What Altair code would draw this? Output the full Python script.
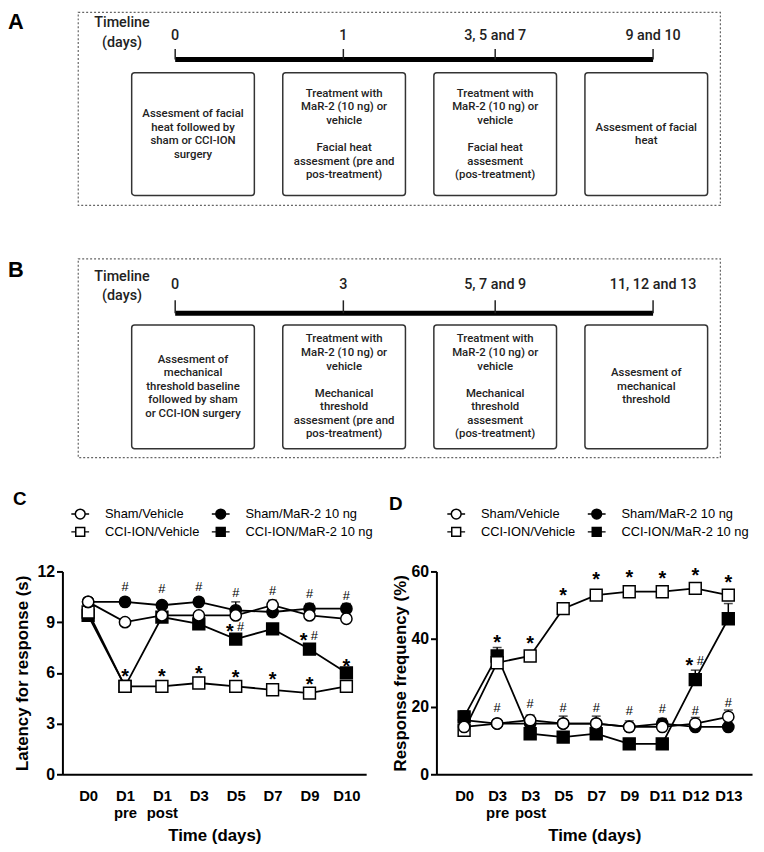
import altair as alt
import pandas as pd

ARIAL = "Liberation Sans, Arial, Helvetica, sans-serif"
ROBOTO = "Roboto, sans-serif"

# ---------------- data ----------------
SERIES = ["Sham/Vehicle", "Sham/MaR-2 10 ng", "CCI-ION/Vehicle", "CCI-ION/MaR-2 10 ng"]
LEGEND_ORDER = ["Sham/Vehicle", "CCI-ION/Vehicle", "Sham/MaR-2 10 ng", "CCI-ION/MaR-2 10 ng"]

# Panel A (facial heat timeline)
a_stage_labels = ["0", "1", "3, 5 and 7", "9 and 10"]
a_box_texts = [
    "Assesment of facial\nheat  followed by\nsham or CCI-ION\nsurgery",
    "Treatment with\nMaR-2 (10 ng) or\nvehicle\n\nFacial heat\nassesment (pre and\npos-treatment)",
    "Treatment with\nMaR-2 (10 ng) or\nvehicle\n\nFacial heat\nassesment\n(pos-treatment)",
    "Assesment of facial\nheat",
]
# Panel B (mechanical threshold timeline)
b_stage_labels = ["0", "3", "5, 7 and 9", "11, 12 and 13"]
b_box_texts = [
    "Assesment of\nmechanical\nthreshold baseline\nfollowed by sham\nor CCI-ION surgery",
    "Treatment with\nMaR-2 (10 ng) or\nvehicle\n\nMechanical\nthreshold\nassesment (pre and\npos-treatment)",
    "Treatment with\nMaR-2 (10 ng) or\nvehicle\n\nMechanical\nthreshold\nassesment\n(pos-treatment)",
    "Assesment of\nmechanical\nthreshold",
]
timeline_title = ["Timeline", "(days)"]

# Panel C: latency for response (s)
c_cats = ["D0", "D1 pre", "D1 post", "D3", "D5", "D7", "D9", "D10"]
c_vals = {
    "Sham/Vehicle":        [10.2, 9.0, 9.4, 9.4, 9.4, 10.0, 9.4, 9.2],
    "Sham/MaR-2 10 ng":    [10.2, 10.2, 10.0, 10.2, 9.7, 9.6, 9.8, 9.8],
    "CCI-ION/Vehicle":     [9.6, 5.2, 5.2, 5.4, 5.2, 5.0, 4.8, 5.2],
    "CCI-ION/MaR-2 10 ng": [9.4, 5.2, 9.3, 8.9, 8.0, 8.6, 7.4, 6.0],
}
c_sem = {
    "Sham/Vehicle":        [0.2, 0.2, 0.2, 0.2, 0.2, 0.3, 0.2, 0.2],
    "Sham/MaR-2 10 ng":    [0.2, 0.2, 0.2, 0.2, 0.5, 0.2, 0.3, 0.3],
    "CCI-ION/Vehicle":     [0.3, 0.2, 0.2, 0.2, 0.2, 0.2, 0.2, 0.2],
    "CCI-ION/MaR-2 10 ng": [0.3, 0.3, 0.2, 0.3, 0.3, 0.2, 0.3, 0.3],
}
c_star_cats = ["D1 pre", "D1 post", "D3", "D5", "D7", "D9", "D10"]
c_star_vals = [6.05, 6.05, 6.2, 6.0, 5.85, 5.55, 6.65]
c_hash_cats = ["D1 pre", "D1 post", "D3", "D5", "D7", "D9", "D10"]
c_hash_vals = [11.1, 10.95, 11.05, 10.7, 10.85, 10.65, 10.55]
c_pair_cats = ["D5", "D9"]
c_pair_vals = [8.7, 8.2]

# Panel D: response frequency (%)
d_cats = ["D0", "D3 pre", "D3 post", "D5", "D7", "D9", "D11", "D12", "D13"]
d_vals = {
    "Sham/Vehicle":        [14, 15, 16, 15, 15, 14, 14, 15, 17],
    "Sham/MaR-2 10 ng":    [16, 15, 15, 15, 15, 14, 15, 14, 14],
    "CCI-ION/Vehicle":     [13, 33, 35, 49, 53, 54, 54, 55, 53],
    "CCI-ION/MaR-2 10 ng": [17, 35, 12, 11, 12, 9, 9, 28, 46],
}
d_sem = {
    "Sham/Vehicle":        [1.0, 1.0, 1.5, 2.2, 2.2, 1.8, 2.3, 1.8, 2.0],
    "Sham/MaR-2 10 ng":    [1.5, 1.0, 1.0, 1.0, 1.0, 1.0, 1.5, 1.0, 1.0],
    "CCI-ION/Vehicle":     [1.0, 1.5, 1.0, 1.0, 1.0, 1.0, 1.0, 1.0, 1.5],
    "CCI-ION/MaR-2 10 ng": [1.8, 2.5, 1.0, 1.0, 1.0, 1.0, 1.0, 2.8, 4.5],
}
d_star_cats = ["D3 pre", "D3 post", "D5", "D7", "D9", "D11", "D12", "D13"]
d_star_vals = [40.3, 40.0, 54.2, 59.0, 59.5, 59.1, 60.1, 57.9]
d_hash_cats = ["D3 pre", "D3 post", "D5", "D7", "D9", "D11", "D12", "D13"]
d_hash_vals = [19.7, 20.7, 19.7, 19.7, 18.8, 19.3, 18.8, 21.0]
d_pair_cats = ["D12"]
d_pair_vals = [33.4]

# ---------------- layout (pixels of the whole canvas) ----------------
W, H = 756, 836
STAGE_XMIN, STAGE_XMAX = -1.2246, 3.4905   # stage-index scale across x = 0..720
STAGE_RANGE = [0, 720]
FRAME_LEFT = -0.7597
BOX_HALF = 0.406
TICK_POS = [-0.118, 0.995, 2.0, 3.045]
TL_POS = -0.47

CIRCLE_LEG = "M-1,0L-0.55,0M0.55,0L1,0M-0.55,0A0.55,0.55,0,1,1,0.55,0A0.55,0.55,0,1,1,-0.55,0Z"
SQUARE_LEG = "M-1,0L-0.5,0M0.5,0L1,0M-0.5,-0.5L0.5,-0.5L0.5,0.5L-0.5,0.5Z"


def line_rows(texts, positions):
    rows = []
    for t, p in zip(texts, positions):
        lines = t.split("\n")
        n = len(lines)
        for k, ln in enumerate(lines):
            if ln:
                rows.append(dict(p=p, line=ln, k=k, n=n))
    return pd.DataFrame(rows)


def schematic(letter, stage_labels, box_texts, g):
    n = len(stage_labels)
    df = pd.DataFrame({"i": list(range(n)), "label": stage_labels, "tick": TICK_POS})
    xs = alt.Scale(domain=[STAGE_XMIN, STAGE_XMAX], range=STAGE_RANGE, nice=False, zero=False)
    base = alt.Chart(df)
    frame = alt.Chart(pd.DataFrame({"a": [FRAME_LEFT], "b": [STAGE_XMAX]})).mark_rect(
        fillOpacity=0, stroke="#666", strokeDash=[2, 2], strokeWidth=1.2
    ).encode(x=alt.X("a:Q", scale=xs, axis=None), x2="b:Q",
             y=alt.value(g["frame_top"]), y2=alt.value(g["frame_bot"]))
    bar = alt.Chart(pd.DataFrame({"a": [TICK_POS[0]], "b": [TICK_POS[-1]]})).mark_rule(
        strokeWidth=5, color="black"
    ).encode(x=alt.X("a:Q", scale=xs, axis=None), x2="b:Q", y=alt.value(g["bar"]))
    ticks = base.mark_rule(strokeWidth=1.5, color="#222").encode(
        x=alt.X("tick:Q", scale=xs, axis=None), y=alt.value(g["tick_top"]), y2=alt.value(g["bar"])
    )
    nums = base.mark_text(font=ROBOTO, fontSize=14.5, fontWeight=500, color="#222", baseline="middle").encode(
        x=alt.X("tick:Q", scale=xs, axis=None), y=alt.value(g["num"]), text="label:N"
    )
    boxes = base.transform_calculate(
        x1=f"datum.i - {BOX_HALF}", x2=f"datum.i + {BOX_HALF}"
    ).mark_rect(fill="white", stroke="#333", strokeWidth=1.5, cornerRadius=3).encode(
        x=alt.X("x1:Q", scale=xs, axis=None), x2="x2:Q",
        y=alt.value(g["box_top"]), y2=alt.value(g["box_bot"]),
    )
    lh = g["lh"]
    txt = alt.Chart(line_rows(box_texts, list(range(n)))).transform_calculate(
        py=f"{g['box_mid']} + (datum.k - (datum.n - 1) / 2) * {lh}"
    ).mark_text(
        font=ROBOTO, fontSize=11.5, fontWeight=500, color="#222", baseline="middle", align="center",
    ).encode(x=alt.X("p:Q", scale=xs, axis=None), y=alt.Y("py:Q", scale=None, axis=None), text="line:N")
    tl = alt.Chart(line_rows(["\n".join(timeline_title)], [TL_POS])).transform_calculate(
        py=f"{g['tl']} + (datum.k - (datum.n - 1) / 2) * 20"
    ).mark_text(
        font=ROBOTO, fontSize=14.5, fontWeight=500, color="#222", baseline="middle", align="center",
    ).encode(x=alt.X("p:Q", scale=xs, axis=None), y=alt.Y("py:Q", scale=None, axis=None), text="line:N")
    let = alt.Chart(pd.DataFrame({"t": [letter]})).mark_text(
        align="left", baseline="top", fontSize=22, fontWeight="bold", font=ARIAL, color="black"
    ).encode(text="t:N", x=alt.value(0), y=alt.value(g["letter"]))
    return alt.layer(frame, bar, ticks, nums, boxes, txt, tl, let)


def data_panel(cats, vals, sems, star_cats, star_vals, hash_cats, hash_vals, pair_cats, pair_vals,
               ydomain, yvalues, ytitle, g):
    rows = []
    order = ["CCI-ION/MaR-2 10 ng", "CCI-ION/Vehicle", "Sham/MaR-2 10 ng", "Sham/Vehicle"]
    for s in order:
        for k, c in enumerate(cats):
            rows.append(dict(cat=c, idx=k, series=s, value=vals[s][k], sem=sems[s][k],
                             upper=vals[s][k] + sems[s][k]))
    df = pd.DataFrame(rows)

    n = len(cats)
    cat_array = "[" + ",".join("'" + c + "'" for c in cats) + "]"
    xscale = alt.Scale(domain=[g["dmin"], n - 1 + g["dmax_extra"]], range=[g["x0"], g["x1"]],
                       nice=False, zero=False)
    xaxis = alt.Axis(
        orient="bottom", offset=g["bottom"] - H, values=list(range(n)),
        title="Time (days)", labelExpr=f"split({cat_array}[datum.value], ' ')", labelAngle=0, ticks=False,
        domainColor="black", domainWidth=2, grid=False,
        labelFont=ARIAL, labelFontSize=15, labelFontWeight="bold", labelColor="black",
        labelPadding=15, labelLineHeight=17, labelFlush=False, labelOverlap=False,
        titleFont=ARIAL, titleFontSize=17, titleFontWeight="bold", titleColor="black", titlePadding=7,
    )
    yscale = alt.Scale(domain=ydomain, nice=False, zero=True, range=[g["bottom"], g["top"]])
    yaxis = alt.Axis(
        orient="left", offset=-g["x0"],
        title=ytitle, values=yvalues, grid=False, domainColor="black", domainWidth=2,
        tickColor="black", tickWidth=2, tickSize=6,
        labelFont=ARIAL, labelFontSize=16, labelFontWeight="bold", labelColor="black", labelPadding=2,
        titleFont=ARIAL, titleFontSize=17, titleFontWeight="bold", titleColor="black",
        titlePadding=g["ytitle_pad"],
    )

    def X(field="idx"):
        return alt.X(f"{field}:Q", scale=xscale, axis=xaxis, title="Time (days)")

    def Y(field):
        return alt.Y(f"{field}:Q", scale=yscale, axis=yaxis, title=ytitle)

    leg = alt.Legend(
        title=None, orient="none", legendX=g["leg_x"], legendY=g["leg_y"], columns=2, columnPadding=9,
        rowPadding=0, symbolSize=324, symbolStrokeWidth=1.5, symbolStrokeColor="black",
        symbolOpacity=1, labelFont=ARIAL, labelFontSize=13, labelColor="black", labelOffset=15,
        padding=0, labelLimit=0,
    )
    shape_rng = {"Sham/Vehicle": CIRCLE_LEG, "Sham/MaR-2 10 ng": CIRCLE_LEG,
                 "CCI-ION/Vehicle": SQUARE_LEG, "CCI-ION/MaR-2 10 ng": SQUARE_LEG}
    fill_rng = {"Sham/Vehicle": "white", "Sham/MaR-2 10 ng": "black",
                "CCI-ION/Vehicle": "white", "CCI-ION/MaR-2 10 ng": "black"}
    legend_layer = alt.Chart(df).transform_filter("false").mark_point(
        filled=True, opacity=1, strokeWidth=1.5
    ).encode(
        shape=alt.Shape("series:N", scale=alt.Scale(domain=LEGEND_ORDER, range=[shape_rng[s] for s in LEGEND_ORDER]), legend=leg),
        fill=alt.Fill("series:N", scale=alt.Scale(domain=LEGEND_ORDER, range=[fill_rng[s] for s in LEGEND_ORDER]), legend=leg),
        stroke=alt.Stroke("series:N", scale=alt.Scale(domain=LEGEND_ORDER, range=["black"] * 4), legend=leg),
    )

    lines = alt.Chart(df).mark_line(color="black", strokeWidth=1.8).encode(
        x=X(), y=Y("value"), detail="series:N", order="idx:Q"
    )
    eb = df[df["sem"] > 0]
    err_rule = alt.Chart(eb).mark_rule(color="black", strokeWidth=1.5).encode(
        x=X(), y=Y("value"), y2="upper:Q"
    )
    err_cap = alt.Chart(eb).mark_tick(color="black", thickness=1.5, size=9, orient="horizontal").encode(
        x=X(), y=Y("upper")
    )

    styles = {
        "CCI-ION/MaR-2 10 ng": ("square", "black", 144),
        "CCI-ION/Vehicle": ("square", "white", 144),
        "Sham/MaR-2 10 ng": ("circle", "black", 130),
        "Sham/Vehicle": ("circle", "white", 130),
    }
    pts = []
    for s in order:
        shp, fc, sz = styles[s]
        pts.append(
            alt.Chart(df).transform_filter(alt.datum.series == s).mark_point(
                shape=shp, filled=True, fill=fc, stroke="black", strokeWidth=1.5, size=sz, opacity=1
            ).encode(x=X(), y=Y("value"))
        )

    def ann_df(cs, vs):
        return pd.DataFrame({"idx": [cats.index(c) for c in cs], "val": vs})

    tstyle_star = dict(text="*", font=ARIAL, fontSize=20, fontWeight="bold", fill="black", color="black")
    tstyle_hash = dict(text="#", font=ARIAL, fontSize=13, fill="black", color="black")
    stars = alt.Chart(ann_df(star_cats, star_vals)).mark_text(dy=5, **tstyle_star).encode(x=X(), y=Y("val"))
    hashes = alt.Chart(ann_df(hash_cats, hash_vals)).mark_text(**tstyle_hash).encode(x=X(), y=Y("val"))
    pstars = alt.Chart(ann_df(pair_cats, pair_vals)).mark_text(dy=5, dx=-6, **tstyle_star).encode(x=X(), y=Y("val"))
    phashes = alt.Chart(ann_df(pair_cats, pair_vals)).mark_text(dx=5, **tstyle_hash).encode(x=X(), y=Y("val"))

    let = alt.Chart(pd.DataFrame({"t": [g["letter"]]})).mark_text(
        align="left", baseline="top", fontSize=19, fontWeight="bold", font=ARIAL, color="black"
    ).encode(text="t:N", x=alt.value(g["let_x"]), y=alt.value(g["let_y"]))

    return alt.layer(legend_layer, lines, err_rule, err_cap, *pts, stars, hashes, pstars, phashes, let)


# ---------------- panels ----------------
panel_a = schematic("A", a_stage_labels, a_box_texts,
                    dict(letter=0, frame_top=0, frame_bot=195, tl=21, num=24, tick_top=37, bar=47.5,
                         box_top=61, box_bot=185, box_mid=123.5, lh=13.7))
panel_b = schematic("B", b_stage_labels, b_box_texts,
                    dict(letter=250.5, frame_top=249, frame_bot=450, tl=277, num=276, tick_top=291, bar=304,
                         box_top=316, box_bot=441, box_mid=378.5, lh=13.7))

panel_c = data_panel(c_cats, c_vals, c_sem, c_star_cats, c_star_vals, c_hash_cats, c_hash_vals,
                     c_pair_cats, c_pair_vals, [0, 12], [0, 3, 6, 9, 12], "Latency for response (s)",
                     dict(x0=55, x1=362, top=565, bottom=770, dmin=-0.697, dmax_extra=0.536,
                          ytitle_pad=5, leg_x=63, leg_y=497, letter="C", let_x=5, let_y=482.6))
panel_d = data_panel(d_cats, d_vals, d_sem, d_star_cats, d_star_vals, d_hash_cats, d_hash_vals,
                     d_pair_cats, d_pair_vals, [0, 60], [0, 20, 40, 60], "Response frequency (%)",
                     dict(x0=433, x1=752, top=565, bottom=770, dmin=-0.839, dmax_extra=0.719,
                          ytitle_pad=1, leg_x=443, leg_y=497, letter="D", let_x=385, let_y=487.6))

IND = dict(x="independent", y="independent", shape="independent", fill="independent", stroke="independent")
chart = alt.layer(panel_a, panel_b, panel_c, panel_d).resolve_scale(**IND).resolve_axis(
    x="independent", y="independent"
).resolve_legend(
    shape="independent", fill="independent", stroke="independent"
).properties(
    width=W, height=H, padding=0, autosize=alt.AutoSizeParams(type="none")
).configure_view(stroke=None)

chart.save("out.html", embed_options={"renderer": "svg", "actions": False})
